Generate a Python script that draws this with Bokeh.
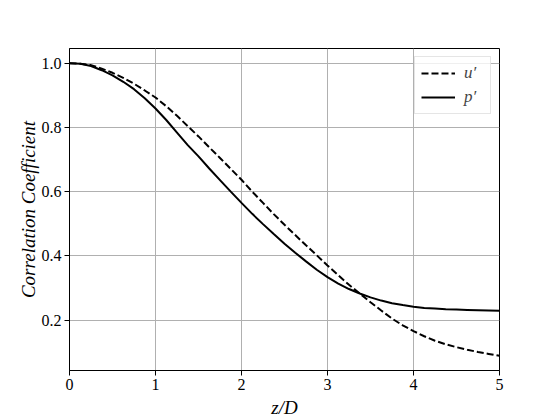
from bokeh.plotting import figure
from bokeh.models import FixedTicker, Range1d, Legend, LegendItem
from bokeh.embed import file_html
from bokeh.resources import INLINE

z_over_D = [0.0, 0.125, 0.25, 0.375, 0.5, 0.625, 0.75, 0.875, 1.0, 1.125,
            1.25, 1.375, 1.5, 1.625, 1.75, 1.875, 2.0, 2.125, 2.25, 2.375,
            2.5, 2.625, 2.75, 2.875, 3.0, 3.125, 3.25, 3.375, 3.5, 3.625,
            3.75, 3.875, 4.0, 4.125, 4.25, 4.375, 4.5, 4.625, 4.75, 4.875, 5.0]
u_prime = [1.000, 0.998, 0.994, 0.983, 0.970, 0.954, 0.936, 0.915, 0.893, 0.866,
           0.836, 0.804, 0.772, 0.738, 0.705, 0.671, 0.637, 0.600, 0.565, 0.530,
           0.497, 0.465, 0.433, 0.402, 0.370, 0.340, 0.310, 0.283, 0.256, 0.230,
           0.205, 0.184, 0.166, 0.150, 0.136, 0.125, 0.116, 0.108, 0.101, 0.095, 0.089]
p_prime = [1.000, 0.998, 0.991, 0.978, 0.962, 0.942, 0.919, 0.891, 0.859, 0.823,
           0.784, 0.745, 0.710, 0.672, 0.636, 0.600, 0.565, 0.531, 0.499, 0.468,
           0.438, 0.410, 0.383, 0.357, 0.334, 0.314, 0.297, 0.283, 0.271, 0.261,
           0.253, 0.247, 0.242, 0.238, 0.236, 0.234, 0.233, 0.232, 0.231, 0.230, 0.229]

x_ticks = [0, 1, 2, 3, 4, 5]
y_ticks = [0.2, 0.4, 0.6, 0.8, 1.0]
y_tick_labels = ["0.2", "0.4", "0.6", "0.8", "1.0"]

FONT = "Liberation Serif"

p = figure(frame_width=430, frame_height=322, output_backend="svg",
           toolbar_location=None, x_range=Range1d(0, 5),
           y_range=Range1d(0.0434, 1.0456),
           min_border_left=69, min_border_top=48, min_border_right=40,
           min_border_bottom=0)
p.background_fill_color = "white"
p.border_fill_color = "white"
p.outline_line_color = "black"
p.outline_line_width = 1
p.outline_line_alpha = 1

r_u = p.line(z_over_D, u_prime, line_color="black", line_width=2, line_dash="7 3")
r_p = p.line(z_over_D, p_prime, line_color="black", line_width=2)

for ax in (p.xaxis, p.yaxis):
    ax.axis_line_color = "black"
    ax.major_tick_line_color = "black"
    ax.major_tick_out = 5
    ax.major_tick_in = 0
    ax.minor_tick_line_color = None
    ax.major_label_text_font = FONT
    ax.major_label_text_font_size = "16px"
    ax.major_label_text_color = "black"
    ax.axis_label_text_font = FONT
    ax.axis_label_text_font_size = "19px"
    ax.axis_label_text_font_style = "italic"
    ax.axis_label_text_color = "black"
    ax.major_label_standoff = 3

p.xaxis.ticker = FixedTicker(ticks=x_ticks)
p.yaxis.ticker = FixedTicker(ticks=y_ticks)
p.yaxis.major_label_overrides = {t: l for t, l in zip(y_ticks, y_tick_labels)}
p.xaxis.axis_label = "z/D"
p.yaxis.axis_label = "Correlation Coefficient"
p.xaxis.axis_label_standoff = 4
p.yaxis.axis_label_standoff = 0

p.xgrid.ticker = FixedTicker(ticks=x_ticks)
p.ygrid.ticker = FixedTicker(ticks=y_ticks)
for g in (p.xgrid, p.ygrid):
    g.grid_line_color = "#b0b0b0"
    g.grid_line_width = 1

legend = Legend(items=[LegendItem(label="u\u2032", renderers=[r_u]),
                       LegendItem(label="p\u2032", renderers=[r_p])],
                location="top_right")
legend.margin = 8
legend.padding = 6
legend.spacing = 4
legend.glyph_width = 34
legend.glyph_height = 20
legend.label_standoff = 9
legend.label_text_font = FONT
legend.label_text_font_style = "italic"
legend.label_text_font_size = "17px"
legend.border_line_color = "#cccccc"
legend.border_line_width = 1
legend.background_fill_alpha = 0.8
p.add_layout(legend)

open("out.html", "w").write(file_html(p, INLINE))
